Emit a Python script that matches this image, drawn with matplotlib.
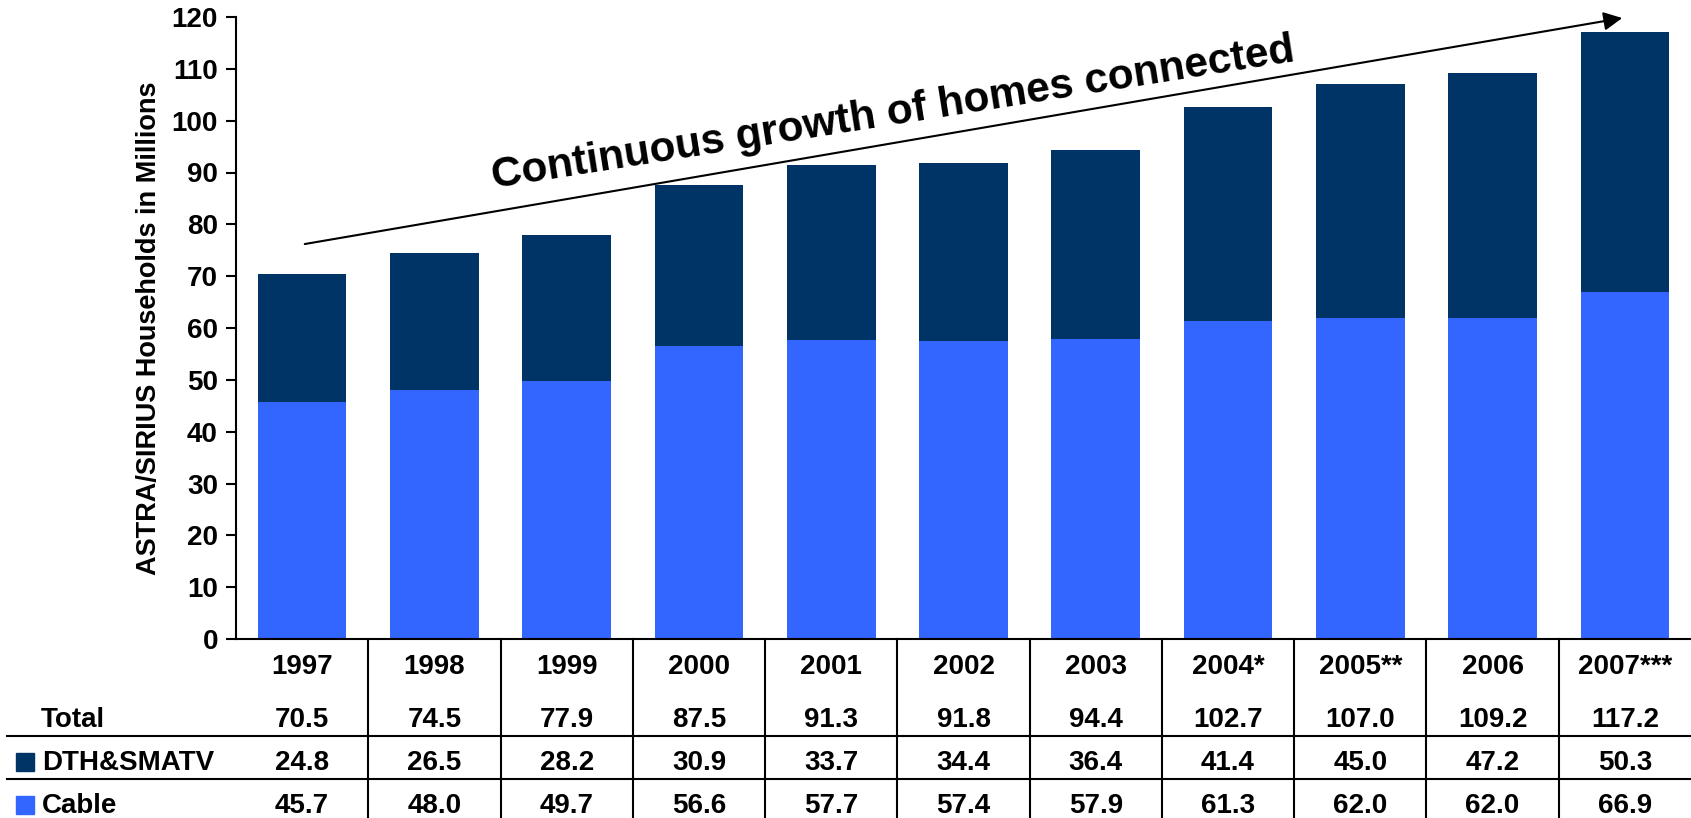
import matplotlib
matplotlib.use("Agg")
import matplotlib.pyplot as plt
import matplotlib.transforms as mtransforms
from matplotlib.lines import Line2D
from matplotlib.patches import Rectangle
import numpy as np

# data
years = ["1997", "1998", "1999", "2000", "2001", "2002", "2003",
         "2004*", "2005**", "2006", "2007***"]
cable = [45.7, 48.0, 49.7, 56.6, 57.7, 57.4, 57.9, 61.3, 62.0, 62.0, 66.9]
dth = [24.8, 26.5, 28.2, 30.9, 33.7, 34.4, 36.4, 41.4, 45.0, 47.2, 50.3]
total = [70.5, 74.5, 77.9, 87.5, 91.3, 91.8, 94.4, 102.7, 107.0, 109.2, 117.2]

navy = "#003366"
blue = "#3366FF"

plt.rcParams["font.family"] = ["Liberation Sans", "DejaVu Sans"]
plt.rcParams["font.weight"] = "bold"

W, H = 1691, 818
fig = plt.figure(figsize=(W / 100, H / 100), dpi=100)
ax = fig.add_axes([236 / W, (H - 639) / H, (W - 236) / W, (639 - 17) / H])

x = np.arange(len(years))
ax.bar(x, cable, width=0.67, color=blue)
ax.bar(x, dth, width=0.67, bottom=cable, color=navy)

ax.set_xlim(-0.5, len(years) - 0.5)
ax.set_ylim(0, 120)
ax.set_yticks(np.arange(0, 121, 10))
ax.set_xticks([])
ax.tick_params(axis="y", labelsize=20, length=7, width=1.5, pad=6)
for lbl in ax.get_yticklabels():
    lbl.set_fontweight("bold")
for s in ["top", "right"]:
    ax.spines[s].set_visible(False)
ax.spines["left"].set_linewidth(1.5)
ax.spines["bottom"].set_linewidth(1.5)
ax.set_ylabel("ASTRA/SIRIUS Households in Millions", fontsize=19.5,
              fontweight="bold", labelpad=7)

# trend arrow and caption
ax.annotate("", xy=(9.98, 119.8), xytext=(0.02, 76.2),
            arrowprops=dict(arrowstyle="-|>", mutation_scale=28, lw=1.5,
                            color="black", shrinkA=0, shrinkB=0),
            annotation_clip=False)
ax.text(4.48, 99.2, "Continuous growth of homes connected", fontsize=30.5,
        fontweight="bold", rotation=9, rotation_mode="anchor",
        ha="center", va="baseline")

# data table under the chart
tr = mtransforms.blended_transform_factory(ax.transData, fig.transFigure)
rows_y = [1 - 674 / H, 1 - 727 / H, 1 - 770 / H, 1 - 813 / H]
fs = 20
for i in range(len(years)):
    ax.text(i, rows_y[0], years[i], transform=tr, ha="center", va="baseline",
            fontsize=fs, fontweight="bold")
    ax.text(i, rows_y[1], f"{total[i]:.1f}", transform=tr, ha="center",
            va="baseline", fontsize=fs, fontweight="bold")
    ax.text(i, rows_y[2], f"{dth[i]:.1f}", transform=tr, ha="center",
            va="baseline", fontsize=fs, fontweight="bold")
    ax.text(i, rows_y[3], f"{cable[i]:.1f}", transform=tr, ha="center",
            va="baseline", fontsize=fs, fontweight="bold")

for k in range(1, len(years)):
    fig.add_artist(Line2D([k - 0.5, k - 0.5], [0, (H - 639) / H],
                          transform=tr, color="black", lw=1.5))
for yl in [736, 779]:
    fig.add_artist(Line2D([7 / W, 1], [1 - yl / H, 1 - yl / H],
                          color="black", lw=1.5))

fig.text(41 / W, rows_y[1], "Total", ha="left", va="baseline", fontsize=fs,
         fontweight="bold")
fig.text(42 / W, rows_y[2], "DTH&SMATV", ha="left", va="baseline",
         fontsize=fs, fontweight="bold")
fig.text(42 / W, rows_y[3], "Cable", ha="left", va="baseline", fontsize=fs,
         fontweight="bold")
fig.add_artist(Rectangle((16 / W, 1 - 771 / H), 18 / W, 18 / H,
                         transform=fig.transFigure, color=navy))
fig.add_artist(Rectangle((16 / W, 1 - 814 / H), 18 / W, 18 / H,
                         transform=fig.transFigure, color=blue))

fig.savefig("out.png", dpi=100)
